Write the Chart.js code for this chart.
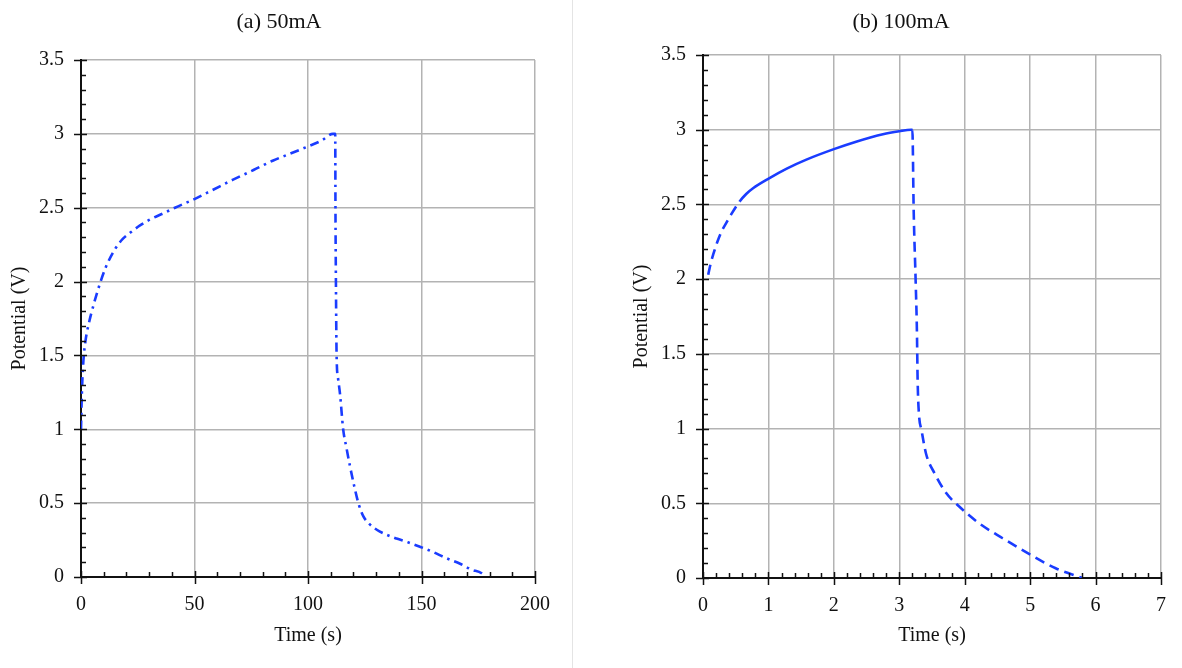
<!DOCTYPE html>
<html>
<head>
<meta charset="utf-8">
<script src="https://cdn.jsdelivr.net/npm/chart.js@4.4.1/dist/chart.umd.min.js"></script>
<style>
  body { margin: 0; background: #fff; width: 1182px; height: 668px; overflow: hidden; font-family: 'Liberation Serif', serif; }
  .panel { position: absolute; top: 0; height: 668px; }
  #pa { left: 0; width: 572px; }
  #pb { left: 573px; width: 609px; }
  #divider { position: absolute; left: 572px; top: 0; width: 1px; height: 668px; background: #e4e4e4; }
  .title { position: absolute; top: 8px; font-size: 22px; color: #111; white-space: nowrap; transform: translateX(-50%); }
  canvas { display: block; }
</style>
</head>
<body>
<div class="panel" id="pa">
  <canvas id="chartA" width="572" height="668"></canvas>
  <div class="title" style="left:279px">(a) 50mA</div>
</div>
<div id="divider"></div>
<div class="panel" id="pb">
  <canvas id="chartB" width="609" height="668"></canvas>
  <div class="title" style="left:328px">(b) 100mA</div>
</div>
<script>
// (a) 50mA charge / discharge
const timeA = [0, 0.4, 1, 2, 3.5, 5.5, 8, 11, 15, 18.5, 21.6, 26, 30.4, 36, 41.4, 50.2, 58, 67, 76, 84.7, 92, 100, 106, 111,
  112, 112.1, 112.3, 112.6, 113.2, 114.1, 115.5, 117, 118.5, 120.3, 122.2, 124.4, 127, 130.3, 134, 139, 144, 149.3, 155, 161, 167, 172, 176.5, 178];
const potentialA = [1.0, 1.25, 1.45, 1.6, 1.72, 1.84, 1.97, 2.1, 2.22, 2.29, 2.33, 2.38, 2.42, 2.46, 2.5, 2.56, 2.62, 2.69, 2.755, 2.82, 2.865, 2.915, 2.955, 3.0,
  3.0, 2.5, 2.0, 1.5, 1.35, 1.24, 1.0, 0.87, 0.75, 0.62, 0.5, 0.41, 0.36, 0.32, 0.29, 0.26, 0.235, 0.205, 0.17, 0.127, 0.09, 0.05, 0.025, 0.0];

// (b) 100mA charge / discharge
const timeB = [0.08, 0.12, 0.16, 0.22, 0.285, 0.36, 0.44, 0.56, 0.66, 0.77, 0.99, 1.28, 1.58, 2.0, 2.34, 2.75, 3.0, 3.18,
  3.2, 3.22, 3.25, 3.27, 3.28, 3.3, 3.34, 3.41, 3.54, 3.72, 3.92, 4.22, 4.58, 5.01, 5.39, 5.8];
const potentialB = [2.03, 2.11, 2.17, 2.25, 2.32, 2.38, 2.44, 2.52, 2.57, 2.61, 2.67, 2.74, 2.8, 2.87, 2.92, 2.97, 2.99, 3.0,
  3.0, 2.46, 1.99, 1.64, 1.33, 1.1, 0.99, 0.83, 0.70, 0.567, 0.477, 0.366, 0.266, 0.154, 0.065, 0.0];
// part of curve (b) drawn solid
const solidRangeB = [0.56, 3.2];

// tick labels
const potentialTicks = [0, 0.5, 1, 1.5, 2, 2.5, 3, 3.5];
const timeTicksA = [0, 50, 100, 150, 200];
const timeTicksB = [0, 1, 2, 3, 4, 5, 6, 7];

const lineColor = '#1a3cff';
Chart.defaults.font.family = "'Liberation Serif', serif";
Chart.defaults.color = '#111';

// black tick marks: majors cross the axis, minors point inward
const tickMarks = {
  id: 'tickMarks',
  afterDraw(chart) {
    const { ctx, chartArea, scales: { x, y } } = chart;
    ctx.save();
    ctx.strokeStyle = '#111';
    ctx.lineWidth = 1.5;
    ctx.beginPath();
    const marks = (scale, horiz) => {
      const vals = scale.ticks.map(t => t.value);
      vals.forEach((v, i) => {
        const p = Math.round(scale.getPixelForValue(v)) + 0.5;
        if (horiz) { ctx.moveTo(p, chartArea.bottom + 7); ctx.lineTo(p, chartArea.bottom - 6); }
        else { ctx.moveTo(chartArea.left - 7, p); ctx.lineTo(chartArea.left + 6, p); }
        if (i === vals.length - 1) return;
        for (let k = 1; k < 5; k++) {
          const q = Math.round(scale.getPixelForValue(v + (vals[i + 1] - v) * k / 5)) + 0.5;
          if (horiz) { ctx.moveTo(q, chartArea.bottom); ctx.lineTo(q, chartArea.bottom - 5); }
          else { ctx.moveTo(chartArea.left, q); ctx.lineTo(chartArea.left + 5, q); }
        }
      });
    };
    marks(x, true);
    marks(y, false);
    ctx.stroke();
    ctx.restore();
  }
};

function makeChart(id, xs, ys, xTicks, opts) {
  const points = xs.map((t, i) => ({ x: t, y: ys[i] }));
  return new Chart(document.getElementById(id), {
    type: 'line',
    data: {
      datasets: [{
        data: points,
        borderColor: lineColor,
        borderWidth: 2.6,
        borderDash: opts.dash,
        segment: opts.segment,
        pointRadius: 0,
        cubicInterpolationMode: 'monotone',
        fill: false
      }]
    },
    options: {
      responsive: false,
      animation: false,
      layout: { padding: opts.padding },
      plugins: { legend: { display: false }, tooltip: { enabled: false } },
      scales: {
        x: {
          type: 'linear',
          min: xTicks[0],
          max: xTicks[xTicks.length - 1],
          afterBuildTicks: s => { s.ticks = xTicks.map(v => ({ value: v })); },
          afterFit: s => { s.height = opts.xHeight; },
          ticks: { padding: 16, font: { size: 20 }, color: '#111', callback: v => String(v) },
          grid: { color: '#b3b3b3', lineWidth: 1.5, drawTicks: false },
          border: { color: '#111', width: 2 },
          title: { display: true, text: 'Time (s)', font: { size: 20 }, color: '#111', padding: { top: 0, bottom: 20 } }
        },
        y: {
          min: 0,
          max: 3.5,
          afterBuildTicks: s => { s.ticks = potentialTicks.map(v => ({ value: v })); },
          afterFit: s => { s.width = opts.yWidth; },
          ticks: { padding: 17, font: { size: 20 }, color: '#111', callback: v => String(v) },
          grid: { color: '#b3b3b3', lineWidth: 1.5, drawTicks: false },
          border: { color: '#111', width: 2 },
          title: { display: true, text: 'Potential (V)', font: { size: 20 }, color: '#111', padding: { top: opts.yTitlePad, bottom: 0 } }
        }
      }
    },
    plugins: [tickMarks]
  });
}

makeChart('chartA', timeA, potentialA, timeTicksA, {
  dash: [9, 5, 2.5, 5],
  padding: { left: 0, right: 37, top: 60, bottom: 0 },
  xHeight: 91, yWidth: 81, yTitlePad: 8
});

makeChart('chartB', timeB, potentialB, timeTicksB, {
  dash: [10, 6],
  segment: {
    borderDash: c => (c.p0.parsed.x >= solidRangeB[0] && c.p1.parsed.x <= solidRangeB[1]) ? [] : [10, 6]
  },
  padding: { left: 50, right: 20, top: 55, bottom: 0 },
  xHeight: 90, yWidth: 80, yTitlePad: 7
});
</script>
</body>
</html>
